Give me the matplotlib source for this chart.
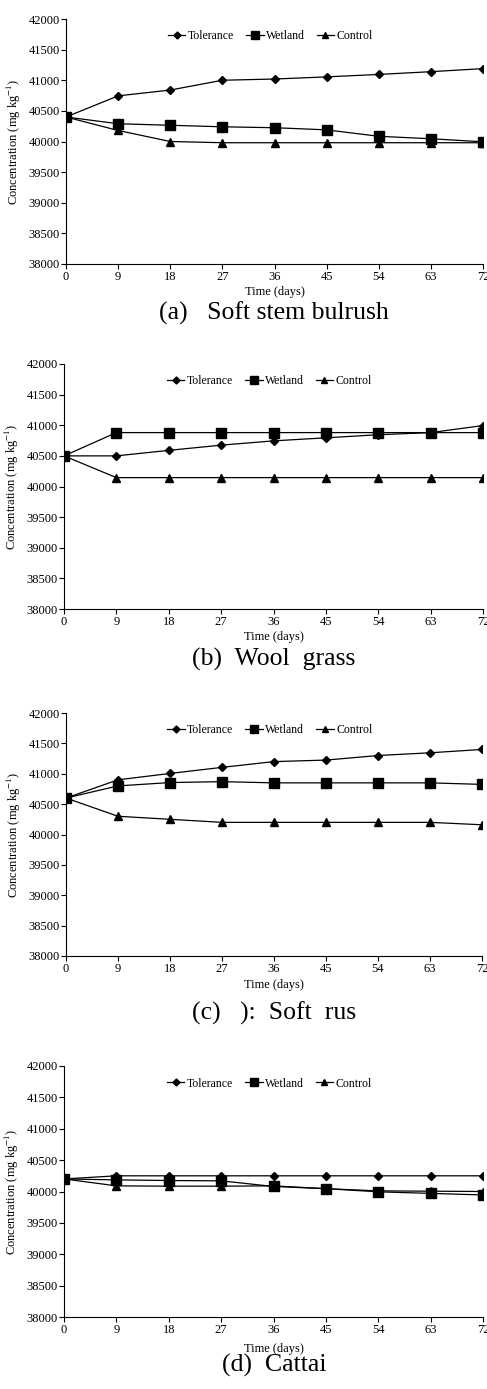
import matplotlib
matplotlib.use('Agg')
import matplotlib.pyplot as plt

plt.rcParams['font.family'] = ['Liberation Serif', 'DejaVu Serif']
plt.rcParams['mathtext.fontset'] = 'stix'

days = [0, 9, 18, 27, 36, 45, 54, 63, 72]

# (a) soft stem bulrush
a_tol = [40400, 40745, 40840, 41000, 41020, 41055, 41095, 41140, 41190]
a_wet = [40400, 40290, 40265, 40240, 40225, 40190, 40085, 40045, 39995]
a_con = [40400, 40180, 40000, 39980, 39980, 39980, 39980, 39980, 39980]

# (b) wool grass
b_tol = [40500, 40500, 40590, 40675, 40745, 40795, 40845, 40880, 40995]
b_wet = [40500, 40880, 40880, 40880, 40880, 40880, 40880, 40880, 40880]
b_con = [40500, 40145, 40145, 40145, 40145, 40145, 40145, 40145, 40145]

# (c) soft rus
c_tol = [40600, 40900, 41005, 41105, 41200, 41225, 41300, 41345, 41400]
c_wet = [40600, 40800, 40855, 40870, 40850, 40850, 40850, 40850, 40825]
c_con = [40600, 40300, 40250, 40200, 40200, 40200, 40200, 40200, 40160]

# (d) cattai
d_tol = [40200, 40250, 40250, 40250, 40250, 40250, 40250, 40250, 40250]
d_wet = [40200, 40185, 40175, 40170, 40080, 40045, 39995, 39970, 39945]
d_con = [40200, 40090, 40085, 40085, 40090, 40045, 40010, 40005, 40000]

captions = ['(a)   Soft stem bulrush', '(b)  Wool  grass', '(c)   ):  Soft  rus', '(d)  Cattai']
yticks = [38000, 38500, 39000, 39500, 40000, 40500, 41000, 41500, 42000]

# axes boxes in pixels: left, right, top, bottom ; caption y ; xlabel pad
W, H = 487, 1389
boxes = [(66, 483, 19, 264, 313, 2),
         (64, 483, 364, 609, 659, 2.5),
         (66, 482, 713, 956, 1013, 3),
         (64, 483, 1066, 1317, 1365, 5)]
series = [(a_tol, a_wet, a_con), (b_tol, b_wet, b_con),
          (c_tol, c_wet, c_con), (d_tol, d_wet, d_con)]

fig = plt.figure(figsize=(W/100, H/100), dpi=100)

for k in range(4):
    l, r, t, b, cy, lp = boxes[k]
    ax = fig.add_axes([l/W, 1-b/H, (r-l)/W, (b-t)/H])
    tol, wet, con = series[k]
    ax.plot(days, tol, '-', color='black', lw=0.9, marker='D', ms=4.2, label='Tolerance', zorder=3)
    ax.plot(days, wet, '-', color='black', lw=0.9, marker='s', ms=6.5, label='Wetland', zorder=4)
    ax.plot(days, con, '-', color='black', lw=0.9, marker='^', ms=5.8, label='Control', zorder=2)
    ax.set_xlim(0, 72)
    ax.set_ylim(38000, 42000)
    ax.set_xticks(days)
    ax.set_yticks(yticks)
    ax.tick_params(axis='y', labelsize=9, length=3.5, width=0.8, pad=1)
    ax.tick_params(axis='x', labelsize=9, length=3.5, width=0.8, pad=1.5)
    for s in ['top', 'right']:
        ax.spines[s].set_visible(False)
    for s in ['left', 'bottom']:
        ax.spines[s].set_linewidth(0.8)
    ax.set_xlabel('Time (days)', fontsize=9, labelpad=lp)
    ax.set_ylabel('Concentration (mg kg$^{-1}$)', fontsize=9, labelpad=4)
    ax.legend(loc='center', bbox_to_anchor=(0.49, 0.93), ncol=3, frameon=False,
              fontsize=8.5, handlelength=1.5, handletextpad=0.2, columnspacing=1.0,
              markerscale=0.85)
    fig.text(274/W, 1-cy/H, captions[k], ha='center', va='center', fontsize=18.5)

fig.savefig('out.png', dpi=100)
